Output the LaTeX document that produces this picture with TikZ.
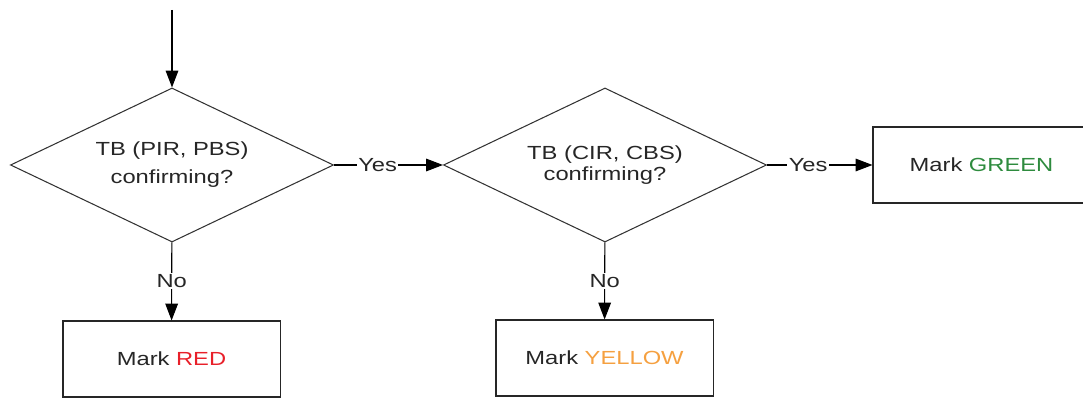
\documentclass[tikz,border=0pt]{standalone}
\usepackage{fontspec}
\setmainfont{Liberation Sans}[FakeStretch=1.25]
\usetikzlibrary{shapes.geometric,arrows.meta}
\definecolor{markred}{HTML}{E8202A}
\definecolor{markyellow}{HTML}{F5A040}
\definecolor{markgreen}{HTML}{2E8B3E}
\tikzset{
  decision/.style={diamond, aspect=2.1, draw=black!80, minimum width=8.075cm, minimum height=3.85cm, inner sep=0pt, align=center},
  markbox/.style={rectangle, draw=black!85, minimum width=5.425cm, minimum height=1.9cm},
  lbl/.style={fill=white, inner sep=1pt}
}
\begin{document}
\begin{tikzpicture}[>={Triangle[length=12pt,width=9pt]}, x=0.025cm, y=-0.025cm,
    font=\fontsize{13.5}{16}\selectfont, text=black!85, line width=0.75pt]
\clip (0,0) rectangle (1083,398);
\coordinate (in) at (172,10);
\node[decision] (pir) at (172,165) {TB (PIR, PBS)\\[4pt]confirming?};
\node[decision] (cir) at (605,165) {TB (CIR, CBS)\\[-1pt]confirming?};
\node[markbox] (green) at (981.5,165) {Mark \textcolor{markgreen}{GREEN}};
\node[markbox] (red) at (171.5,359) {Mark \textcolor{markred}{RED}};
\node[markbox] (yellow) at (604.5,358) {Mark \textcolor{markyellow}{YELLOW}};

\draw[->](in)--(pir);
\draw[->](pir)--node[lbl,pos=.4]{Yes}(cir);
\draw[->](cir)--node[lbl,pos=.39]{Yes}(green);
\draw[->](pir)--node[lbl]{No}(red);
\draw[->](cir)--node[lbl]{No}(yellow);
\end{tikzpicture}
\end{document}
